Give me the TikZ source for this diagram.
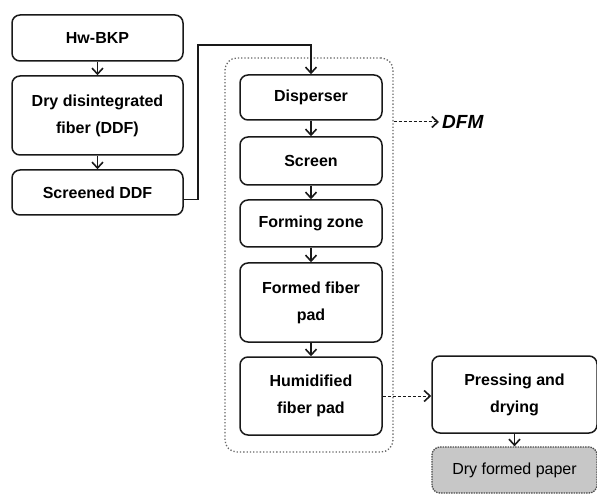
\documentclass[tikz,border=0pt]{standalone}
\usepackage{fontspec}
\setmainfont{Liberation Sans}
\usetikzlibrary{arrows.meta,positioning,calc}
\begin{document}
\begin{tikzpicture}[x=1pt,y=-1pt,
  box/.style={draw=black!90, line width=1.5pt, rounded corners=8pt, align=center,
    font=\fontsize{16}{27}\selectfont\bfseries, inner sep=0pt},
  cont/.style={draw=black!60, line width=1.3pt, dotted, rounded corners=12pt},
  flow/.style={draw=black!90, line width=1.3pt, -{Straight Barb[length=6pt,width=11pt,line width=1.6pt]}},
  dflow/.style={flow, densely dashed, line width=1pt}
]
\useasboundingbox (0,0) rectangle (597,494);
\node[box, minimum width=171pt, minimum height=46pt] (hw) at (97.5,38) {Hw-BKP};
\node[box, minimum width=171pt, minimum height=79pt] (ddf) at (97.5,115.5) {Dry disintegrated\\fiber (DDF)};
\node[box, minimum width=171pt, minimum height=45pt] (sddf) at (97.5,192.5) {Screened DDF};
\node[cont, minimum width=168pt, minimum height=394pt] (cnt) at (309,255) {};
\node[box, minimum width=142pt, minimum height=45pt] (disp) at (311,97.5) {Disperser};
\node[box, minimum width=142pt, minimum height=48pt] (scr) at (311,161) {Screen};
\node[box, minimum width=142pt, minimum height=47pt] (form) at (311,223.5) {Forming zone};
\node[box, minimum width=142pt, minimum height=79pt] (pad) at (311,302.5) {Formed fiber\\pad};
\node[box, minimum width=142pt, minimum height=78pt] (hum) at (311,396) {Humidified\\fiber pad};
\node[box, minimum width=165pt, minimum height=77pt] (press) at (514.5,394.5) {Pressing and\\drying};
\node[box, minimum width=165pt, minimum height=46pt, fill=black!22, draw=black!70, densely dotted, line width=1.3pt, font=\fontsize{16}{27}\selectfont] (dry) at (514.5,470) {Dry formed paper};
\coordinate (c1) at (198,45);
\coordinate (dfmstart) at (cnt.east |- 0,122);
\node[anchor=west, font=\fontsize{19}{22}\selectfont\bfseries\itshape, inner sep=0pt] (dfm) at (442,122) {DFM};
\draw[flow] (hw) -- (ddf);
\draw[flow] (ddf) -- (sddf);
\draw[flow] ([yshift=-7pt]sddf.east) -| (c1) -| (disp.north);
\draw[flow] (disp) -- (scr);
\draw[flow] (scr) -- (form);
\draw[flow] (form) -- (pad);
\draw[flow] (pad) -- (hum);
\draw[dflow] (hum.east) -- (press.west |- hum.east);
\draw[flow] (press) -- (dry);
\draw[dflow] (dfmstart) -- ([xshift=-3pt]dfm.west);
\end{tikzpicture}
\end{document}
